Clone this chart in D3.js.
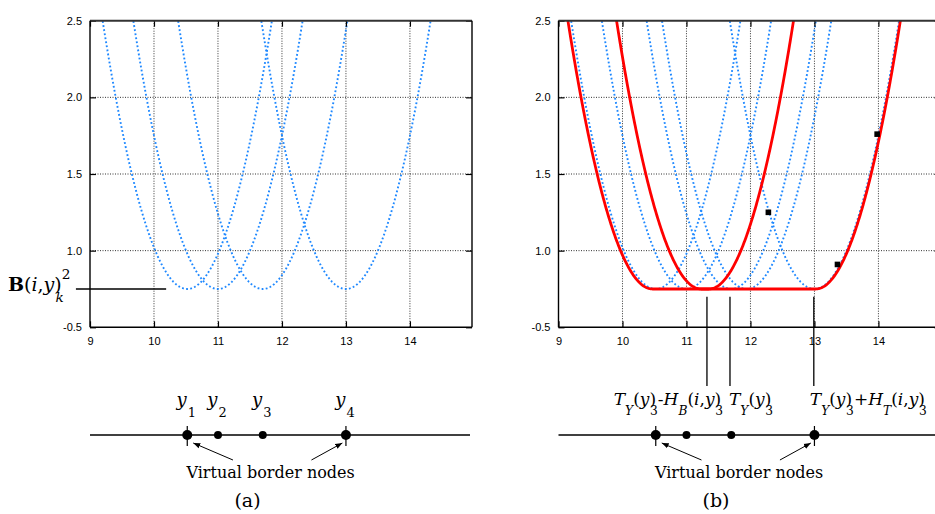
<!DOCTYPE html>
<html>
<head>
<meta charset="utf-8">
<script src="https://cdn.jsdelivr.net/npm/d3@7"></script>
<style>
  body { margin: 0; background: #fff; }
  svg { display: block; }
  .math { font-family: "DejaVu Serif", serif; fill: #000; }
</style>
</head>
<body>
<div id="vis"></div>
<script>
// ---- data ----
const X_TICKS = [9, 10, 11, 12, 13, 14];
const Y_TICKS = [0.5, 1.0, 1.5, 2.0, 2.5];
const Y_TICK_LABELS = ["-0.5", "1.0", "1.5", "2.0", "2.5"];
const X_GRID = [10, 11, 12, 13, 14];
const Y_GRID = [1.0, 1.5, 2.0];

// every blue cost curve is MIN_COST + CURVATURE * (x - center)^2
const MIN_COST = 0.75;
const CURVATURE = 1.0;
const LEFT_CENTERS = [10.52, 11.0, 11.7, 13.0];
const RIGHT_CENTERS = [10.52, 11.0, 11.7, 11.94, 13.0];

// red curves: flat at MIN_COST between start and end, same branches outside
const RED_FLAT_START = [10.47, 11.23];
const RED_FLAT_END = [13.02, 11.35];

// black squares (right panel)
const SQUARE_X = [12.28, 13.36, 13.98];
const SQUARE_Y = [1.25, 0.91, 1.76];

// nodes on the 1-d line under each panel
const NODE_X = [10.52, 11.0, 11.7, 13.0];
const NODE_BORDER = [true, false, false, true];
const NODE_LABELS = ["1", "2", "3", "4"];

// vertical markers in right panel
const MARK_X = [11.32, 11.68, 12.99];
const MARK_TOP = 0.70;

// B(i,y_k)^2 marker line in left panel (x extent, at MIN_COST)
const B_LINE = [8.78, 10.19];

// ---- frame ----
const FRAME_WIDTH = 935;
const FRAME_HEIGHT = 514;
const PLOT_TOP = 20.7;
const PLOT_BOTTOM = 327.3;
const NODE_LINE_Y = 435;

const SVG = d3.select("#vis")
  .append("svg")
  .attr("width", FRAME_WIDTH)
  .attr("height", FRAME_HEIGHT);

const Y_SCALE = d3.scaleLinear()
  .domain([0.5, 2.5])
  .range([PLOT_BOTTOM, PLOT_TOP]);

// write a little math label out of tspans
// segs: [text, style, shift, dx]  style: i italic, r roman, b bold; shift: 0 base, 1 sub, -1 sup
function mathText(g, x, y, anchor, size, segs) {
  const t = g.append("text")
    .attr("class", "math")
    .attr("x", x)
    .attr("y", y)
    .attr("text-anchor", anchor)
    .attr("font-size", size);
  let cur = 0;
  segs.forEach((s) => {
    const shift = s[2] || 0;
    const target = shift === 1 ? size * 0.6 : (shift === -1 ? -size * 0.62 : 0);
    const ts = t.append("tspan")
      .text(s[0])
      .attr("dy", target - cur)
      .attr("font-size", shift === 0 ? size : size * 0.72)
      .attr("font-style", s[1] === "i" ? "italic" : "normal")
      .attr("font-weight", s[1] === "b" ? "bold" : "normal");
    if (s[3]) ts.attr("dx", s[3]);
    cur = target;
  });
  return t;
}

function drawPanel(left, right, centers, isRight, letter) {
  const X_SCALE = d3.scaleLinear()
    .domain([9, 14.97])
    .range([left, right]);

  const g = SVG.append("g");
  const clipId = "clip" + letter;
  g.append("clipPath").attr("id", clipId)
    .append("rect")
    .attr("x", left).attr("y", PLOT_TOP)
    .attr("width", right - left).attr("height", PLOT_BOTTOM - PLOT_TOP);

  // dotted grid
  g.selectAll(".vgrid").data(X_GRID).enter()
    .append("line")
    .attr("x1", (d) => X_SCALE(d)).attr("x2", (d) => X_SCALE(d))
    .attr("y1", PLOT_TOP).attr("y2", PLOT_BOTTOM)
    .attr("stroke", "#333").attr("stroke-width", 1)
    .attr("stroke-dasharray", "1,1.5");
  g.selectAll(".hgrid").data(Y_GRID).enter()
    .append("line")
    .attr("x1", left).attr("x2", right)
    .attr("y1", (d) => Y_SCALE(d)).attr("y2", (d) => Y_SCALE(d))
    .attr("stroke", "#333").attr("stroke-width", 1)
    .attr("stroke-dasharray", "1,1.5");

  const xs = d3.range(8.8, 15.01, 0.01);
  const line = d3.line()
    .x((d) => X_SCALE(d[0]))
    .y((d) => Y_SCALE(d[1]));

  const plot = g.append("g").attr("clip-path", "url(#" + clipId + ")");

  // blue dotted parabolas
  centers.forEach((c) => {
    const pts = xs.map((x) => [x, MIN_COST + CURVATURE * (x - c) * (x - c)])
      .filter((p) => p[1] < 2.7);
    plot.append("path")
      .attr("d", line(pts))
      .attr("fill", "none")
      .attr("stroke", "#1e88ff")
      .attr("stroke-width", 1.9)
      .attr("stroke-dasharray", "1.8,2.3");
  });

  if (isRight) {
    // red flat-bottom curves
    RED_FLAT_START.forEach((a, i) => {
      const b = RED_FLAT_END[i];
      const pts = xs.map((x) => {
        const d = x < a ? a - x : (x > b ? x - b : 0);
        return [x, MIN_COST + CURVATURE * d * d];
      }).filter((p) => p[1] < 2.7);
      plot.append("path")
        .attr("d", line(pts))
        .attr("fill", "none")
        .attr("stroke", "#ff0000")
        .attr("stroke-width", 2.8);
    });

    // black squares
    g.selectAll(".sq").data(SQUARE_X).enter()
      .append("rect")
      .attr("x", (d) => X_SCALE(d) - 2.8)
      .attr("y", (d, i) => Y_SCALE(SQUARE_Y[i]) - 2.8)
      .attr("width", 5.6).attr("height", 5.6)
      .attr("fill", "#000");
  }

  // axes, ticks inward like gnuplot
  const xAxis = g.append("g")
    .attr("transform", "translate(0," + PLOT_BOTTOM + ")")
    .call(d3.axisBottom(X_SCALE).tickValues(X_TICKS).tickFormat(d3.format("d"))
      .tickSizeInner(-6).tickSizeOuter(0).tickPadding(10));
  g.append("g")
    .attr("transform", "translate(0," + PLOT_TOP + ")")
    .call(d3.axisTop(X_SCALE).tickValues(X_TICKS).tickFormat("")
      .tickSizeInner(-6).tickSizeOuter(0));
  const yAxis = g.append("g")
    .attr("transform", "translate(" + left + ",0)")
    .call(d3.axisLeft(Y_SCALE).tickValues(Y_TICKS).tickFormat((d, i) => Y_TICK_LABELS[i])
      .tickSizeInner(-6).tickSizeOuter(0).tickPadding(8));
  g.append("g")
    .attr("transform", "translate(" + right + ",0)")
    .call(d3.axisRight(Y_SCALE).tickValues(Y_TICKS).tickFormat("")
      .tickSizeInner(-6).tickSizeOuter(0));
  g.selectAll(".domain").remove();
  g.selectAll(".tick line").attr("stroke", "#000").attr("stroke-width", 1.2);
  [xAxis, yAxis].forEach((a) => a.selectAll("text")
    .attr("font-family", "'Liberation Sans', Arial, sans-serif")
    .attr("font-size", 11).attr("fill", "#000"));

  // borders
  g.append("line").attr("x1", left).attr("x2", right)
    .attr("y1", PLOT_TOP).attr("y2", PLOT_TOP)
    .attr("stroke", "#333").attr("stroke-width", 2);
  g.append("line").attr("x1", left).attr("x2", right)
    .attr("y1", PLOT_BOTTOM).attr("y2", PLOT_BOTTOM)
    .attr("stroke", "#000").attr("stroke-width", 1.4);
  g.append("line").attr("x1", left).attr("x2", left)
    .attr("y1", PLOT_TOP).attr("y2", PLOT_BOTTOM)
    .attr("stroke", "#000").attr("stroke-width", 1.4);
  g.append("line").attr("x1", right).attr("x2", right)
    .attr("y1", PLOT_TOP).attr("y2", PLOT_BOTTOM)
    .attr("stroke", "#000").attr("stroke-width", 1.4);

  // node line below the plot
  g.append("line").attr("x1", left).attr("x2", left + 380)
    .attr("y1", NODE_LINE_Y).attr("y2", NODE_LINE_Y)
    .attr("stroke", "#000").attr("stroke-width", 1.3);
  g.selectAll(".ntick").data(NODE_X.filter((d, i) => NODE_BORDER[i])).enter()
    .append("line")
    .attr("x1", (d) => X_SCALE(d)).attr("x2", (d) => X_SCALE(d))
    .attr("y1", NODE_LINE_Y - 9).attr("y2", NODE_LINE_Y + 11)
    .attr("stroke", "#000").attr("stroke-width", 1.2);
  g.selectAll(".node").data(NODE_X).enter()
    .append("circle")
    .attr("cx", (d) => X_SCALE(d))
    .attr("cy", NODE_LINE_Y)
    .attr("r", (d, i) => NODE_BORDER[i] ? 5 : 4)
    .attr("fill", "#000");

  // arrows to border nodes
  const first = X_SCALE(NODE_X[0]);
  const last = X_SCALE(NODE_X[NODE_X.length - 1]);
  [[first + 45.7, first + 6], [last - 34.5, last - 3.6]].forEach((a) => {
    g.append("line")
      .attr("x1", a[0]).attr("y1", 460)
      .attr("x2", a[1]).attr("y2", 443)
      .attr("stroke", "#000").attr("stroke-width", 1)
      .attr("marker-end", "url(#arrow)");
  });
  g.append("text")
    .attr("class", "math")
    .attr("x", (first + last) / 2 + 4)
    .attr("y", 478)
    .attr("text-anchor", "middle")
    .attr("font-size", 16)
    .text("Virtual border nodes");
  g.append("text")
    .attr("class", "math")
    .attr("x", left + 157.5)
    .attr("y", 507)
    .attr("text-anchor", "middle")
    .attr("font-size", 19)
    .text("(" + letter + ")");

  if (!isRight) {
    // y_k labels over the nodes
    NODE_X.forEach((d, i) => {
      mathText(g, X_SCALE(d) - 1, 406, "middle", 18,
        [["y", "i", 0], [NODE_LABELS[i], "r", 1, 1]]);
    });
    // B(i,y_k)^2 marker
    g.append("line")
      .attr("x1", X_SCALE(B_LINE[0])).attr("x2", X_SCALE(B_LINE[1]))
      .attr("y1", Y_SCALE(MIN_COST)).attr("y2", Y_SCALE(MIN_COST))
      .attr("stroke", "#000").attr("stroke-width", 1.4);
    mathText(g, 8, 291, "start", 19,
      [["B", "b", 0], ["(", "r", 0], ["i", "i", 0], [",", "r", 0], ["y", "i", 0],
       [")", "r", 0], ["2", "r", -1], ["k", "i", 1, -15]]);
  } else {
    // marker lines and T / H labels
    g.selectAll(".mark").data(MARK_X).enter()
      .append("line")
      .attr("x1", (d) => X_SCALE(d)).attr("x2", (d) => X_SCALE(d))
      .attr("y1", Y_SCALE(MARK_TOP)).attr("y2", 386)
      .attr("stroke", "#000").attr("stroke-width", 1.3);
    const ty = [["T", "i", 0], ["Y", "i", 1], ["(", "r", 0], ["y", "i", 0], [")", "r", 0], ["3", "r", 1, -6]];
    mathText(g, X_SCALE(MARK_X[0]) + 16, 405, "end", 17,
      ty.concat([["-", "r", 0], ["H", "i", 0], ["B", "i", 1], ["(", "r", 0], ["i", "i", 0], [",", "r", 0],
        ["y", "i", 0], [")", "r", 0], ["3", "r", 1, -6]]));
    mathText(g, X_SCALE(MARK_X[1]) - 1, 405, "start", 17, ty);
    mathText(g, X_SCALE(MARK_X[2]) - 4, 405, "start", 17,
      ty.concat([["+", "r", 0], ["H", "i", 0], ["T", "i", 1], ["(", "r", 0], ["i", "i", 0], [",", "r", 0],
        ["y", "i", 0], [")", "r", 0], ["3", "r", 1, -6]]));
  }
}

SVG.append("defs").append("marker")
  .attr("id", "arrow")
  .attr("viewBox", "0 0 10 10")
  .attr("refX", 10).attr("refY", 5)
  .attr("markerWidth", 7).attr("markerHeight", 7)
  .attr("markerUnits", "userSpaceOnUse")
  .attr("orient", "auto")
  .append("path")
  .attr("d", "M0,1 L10,5 L0,9 Z")
  .attr("fill", "#000");

drawPanel(90, 472, LEFT_CENTERS, false, "a");
drawPanel(558.5, 940.5, RIGHT_CENTERS, true, "b");
</script>
</body>
</html>
